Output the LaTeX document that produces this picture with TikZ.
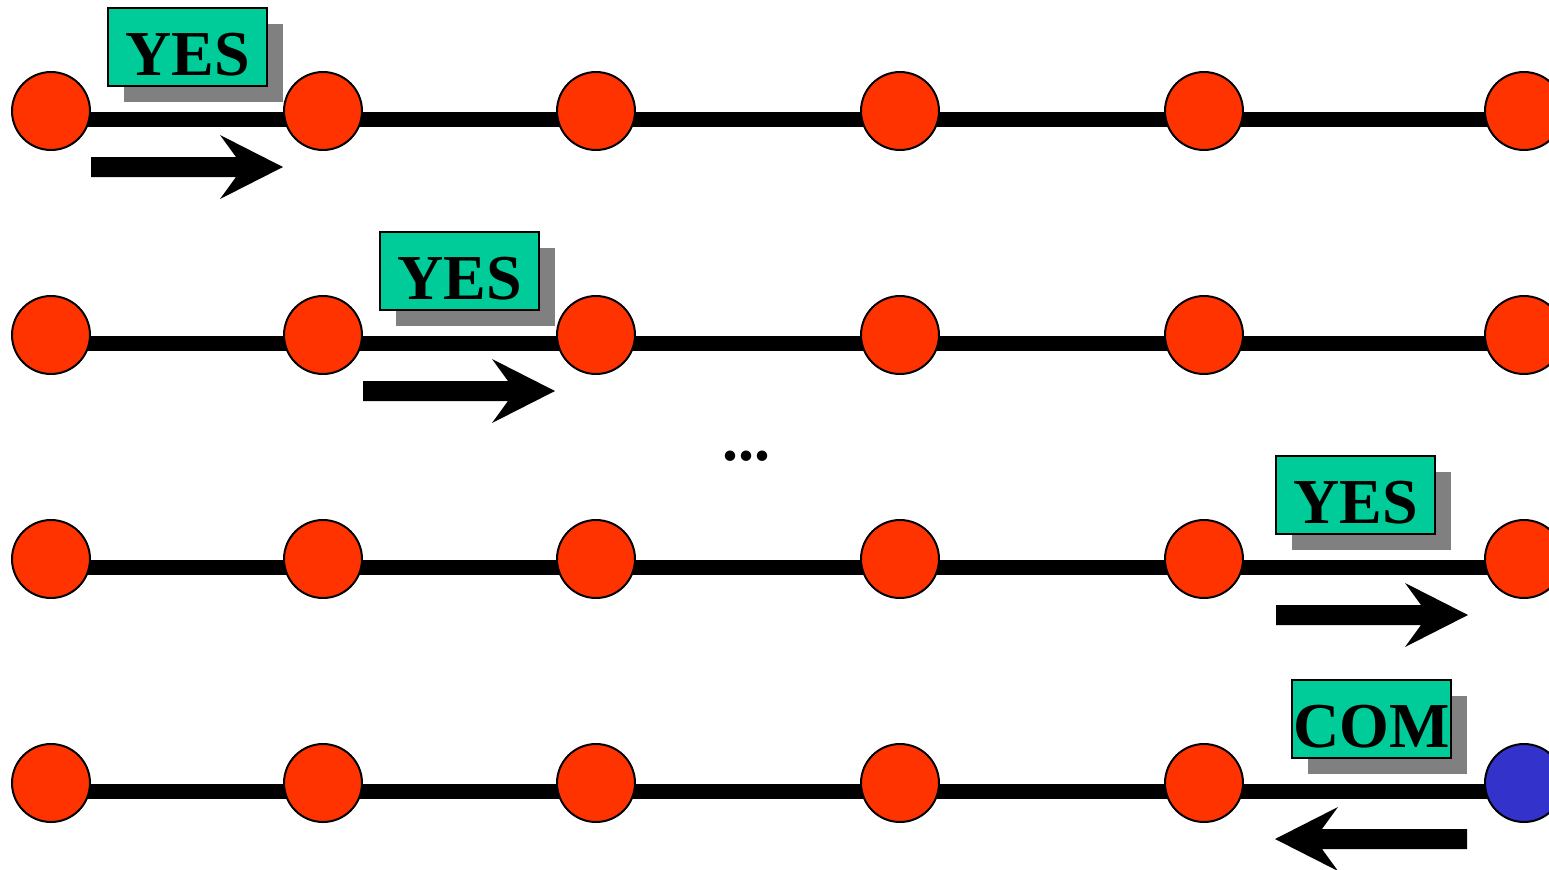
\documentclass[tikz,border=0pt]{standalone}
\usepackage{fontspec}
\setmainfont{Liberation Serif}
\usetikzlibrary{shadows,backgrounds}
\definecolor{dotred}{HTML}{FF3300}
\definecolor{dotblue}{HTML}{3333CC}
\definecolor{tagfill}{HTML}{00CC99}
\begin{document}
\begin{tikzpicture}[x=0.5pt,y=-0.5pt,
  ball/.style={circle,draw,line width=1pt,fill=dotred,minimum size=39pt,inner sep=0pt},
  wire/.style={line width=7.5pt},
  big/.style={font=\bfseries\fontsize{32}{33}\selectfont},
  tag/.style={big,draw,line width=1pt,fill=tagfill,minimum width=79.5pt,minimum height=39pt,inner sep=0pt,text height=28pt,text depth=0pt,drop shadow={shadow xshift=8pt,shadow yshift=-8pt,fill=black!50,opacity=1}}]
\useasboundingbox (0,0) rectangle (1549,869);
\clip (0,0) rectangle (1549,869);
% four rows of stations
\foreach \i/\y in {1/111,2/335,3/559,4/783} {\foreach \j/\x in {1/51,2/323,3/596,4/900,5/1204,6/1524} {\ifnum\i\j=46 \node[ball,fill=dotblue] (p\i\j) at (\x,\y) {};\else \node[ball] (p\i\j) at (\x,\y) {};\fi}
\begin{scope}[on background layer]\draw[wire] ([yshift=-4pt]p\i1.center) -- ([yshift=-4pt]p\i6.center);\end{scope}}
% messages
\foreach \k/\x/\y/\t in {1/187.5/47/YES,2/459.5/271/YES,3/1355.5/495/YES,4/1371.5/719/COM} {\node[tag] (t\k) at (\x,\y) {\t};}
% direction arrows
\foreach \xa/\ya/\d in {91/167/1,363/391/1,1276/615/1,1467/839/-1} {\fill (\xa,\ya-10) -- ++(145*\d,0) -- ++(-16*\d,-22) -- (\xa+192*\d,\ya) -- ++(-63*\d,32) -- ++(16*\d,-22) -- (\xa,\ya+10) -- cycle;}
\node[big,anchor=base,inner sep=0pt] (gap) at (746,460) {...};
\end{tikzpicture}
\end{document}
